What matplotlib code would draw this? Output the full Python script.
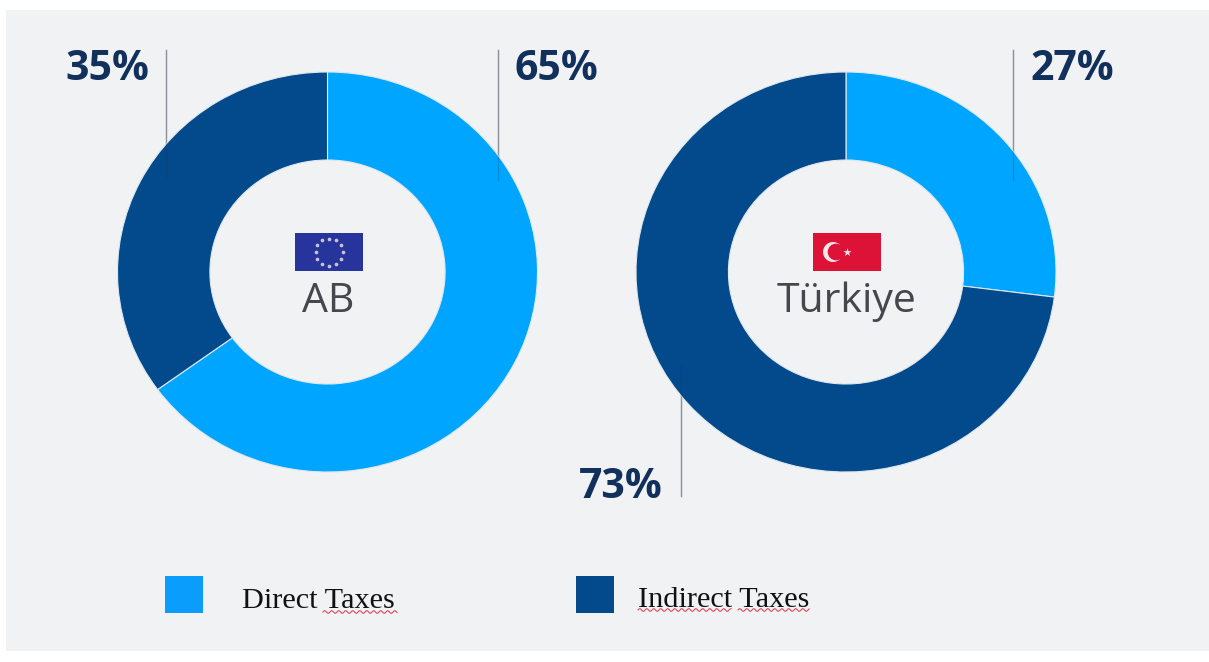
import numpy as np
import matplotlib.pyplot as plt
from matplotlib.patches import Rectangle, Circle

# data
countries = ["AB", "Türkiye"]
direct_taxes = [65, 27]
indirect_taxes = [35, 73]
legend_labels = ["Direct Taxes", "Indirect Taxes"]

W, H = 1209, 662
LIGHT = "#00a5ff"
DARK = "#024a8c"
PANEL = "#f1f2f4"
NUM = "#12305c"

def py(y):
    # y measured from the top of the picture
    return H - y

fig = plt.figure(figsize=(W / 100, H / 100), dpi=100, facecolor="white")

# back layer: panel and the part of the leader lines outside the rings
back = fig.add_axes([0, 0, 1, 1], zorder=0)
back.set_xlim(0, W)
back.set_ylim(0, H)
back.axis("off")
back.add_patch(Rectangle((6, py(651)), W - 6, 641, fc=PANEL, ec="none"))

leaders = [(166, 50, 180), (498, 50, 180), (1013, 50, 180), (681, 365, 496)]
for x, y0, y1 in leaders:
    back.plot([x, x], [py(y0), py(y1)], color="#acaeb2", lw=1.0)

# the rings are slightly wider than tall in the picture
centers = [(327.5, 272), (846, 272)]
RX, RY = 210, 200
for (cx, cy), d, i in zip(centers, direct_taxes, indirect_taxes):
    a = fig.add_axes([(cx - RX) / W, (py(cy) - RY) / H, 2 * RX / W, 2 * RY / H], zorder=1)
    a.pie([d, i], colors=[LIGHT, DARK], startangle=90, counterclock=False, radius=1,
          wedgeprops=dict(width=0.44, edgecolor="#dfe8f0", linewidth=0.8))
    a.set_xlim(-1, 1)
    a.set_ylim(-1, 1)
    a.set_aspect("auto")
    a.axis("off")

# front layer
ax = fig.add_axes([0, 0, 1, 1], zorder=2)
ax.set_xlim(0, W)
ax.set_ylim(0, H)
ax.axis("off")
ax.patch.set_alpha(0)

# faint trace of the leader lines over the rings
for x, y0, y1 in leaders:
    ax.plot([x, x], [py(y0), py(y1)], color="#22303f", lw=1, alpha=0.22)

# percent labels
pct_pos = [(107, 70, indirect_taxes[0]), (556, 70, direct_taxes[0]),
           (1072, 70, direct_taxes[1]), (621, 487, indirect_taxes[1])]
for x, y, v in pct_pos:
    ax.text(x, py(y), f"{v}%", ha="center", va="center", fontsize=29.5,
            fontweight="bold", family="Open Sans", color=NUM)

# centre names
for (cx, cy), name in zip(centers, countries):
    ax.text(cx + 1, py(302), name, ha="center", va="center", fontsize=29.5,
            family="Open Sans", color="#44474c")

# EU flag
ax.add_patch(Rectangle((295, py(271)), 68, 38, fc="#27349b", ec="none"))
ang = np.arange(12) * np.pi / 6
ax.scatter(329 + 13.5 * np.cos(ang), py(252) + 13.5 * np.sin(ang), s=7, marker="o",
           color="#c4c5dc", linewidths=0, zorder=7)

# Turkish flag
ax.add_patch(Rectangle((813, py(271)), 68, 38, fc="#dc1237", ec="none"))
ax.add_patch(Circle((833, py(252)), 10, fc="#f6e6ea", ec="none", zorder=7))
ax.add_patch(Circle((836, py(252)), 8.3, fc="#dc1237", ec="none", zorder=8))
ax.scatter([847], [py(252)], s=38, marker="*", color="#f6e6ea", linewidths=0, zorder=9)

# legend
ax.add_patch(Rectangle((165, py(613)), 38, 37, fc="#0a9dfb", ec="none"))
ax.add_patch(Rectangle((576, py(613)), 38, 37, fc=DARK, ec="none"))
ax.text(242, py(601), legend_labels[0], ha="left", va="center", fontsize=21.8,
        family="Liberation Serif", color="#111111")
ax.text(638, py(600), legend_labels[1], ha="left", va="center", fontsize=21.8,
        family="Liberation Serif", color="#111111")

# spell check squiggles under the legend words
for x0, x1, y in [(323, 397, 612), (638, 731, 610), (738, 809, 610)]:
    xs = np.linspace(x0, x1, int((x1 - x0) * 3))
    ax.plot(xs, py(y) + 1.3 * np.sin((xs - x0) * 2 * np.pi / 7), color="#e0485a", lw=0.8)

fig.savefig("out.png", dpi=100, facecolor="white")
